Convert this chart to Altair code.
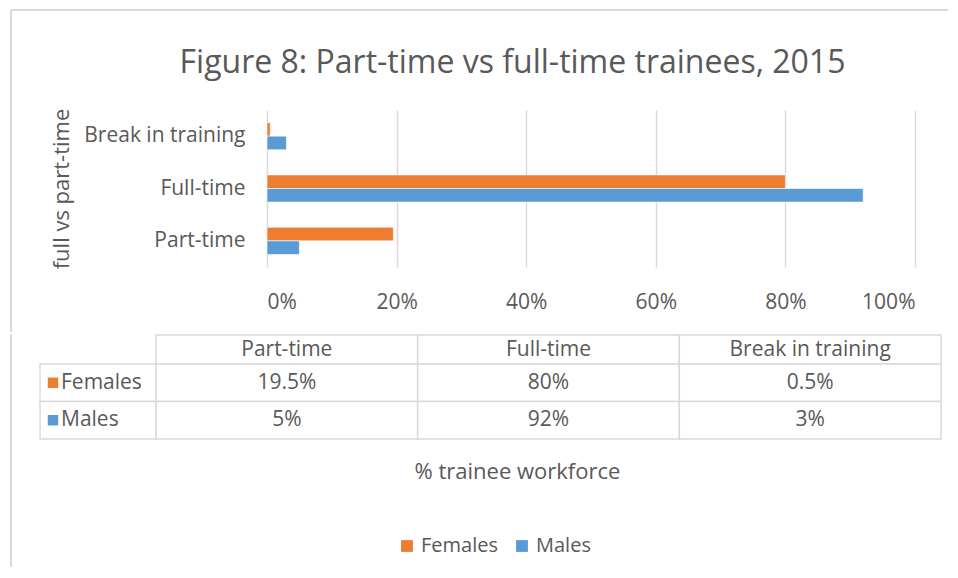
import altair as alt
import pandas as pd

# ---- data ----
categories = ["Part-time", "Full-time", "Break in training"]
genders = ["Females", "Males"]
females = [19.5, 80, 0.5]
males = [5, 92, 3]
colors = ["#ED7D31", "#5B9BD5"]
x_ticks = [0, 20, 40, 60, 80, 100]

rows = []
for g, vals in zip(genders, [females, males]):
    for c, v in zip(categories, vals):
        rows.append({"category": c, "gender": g, "value": v, "text": f"{v:g}%"})
df = pd.DataFrame(rows)
hdr = pd.DataFrame({"category": categories})
labels_df = pd.DataFrame({"gender": genders})

FONT = "Open Sans"
TXT = "#595959"
GRID = "#d9d9d9"
FS = 21
W = 785          # table width (three data columns)
LBL = 116        # width of the row-label column of the table
X0, X1 = 111, 759  # pixel span of 0%..100% inside the plot

color = alt.Color(
    "gender:N",
    scale=alt.Scale(domain=genders, range=colors),
    legend=alt.Legend(title=None, orient="none", legendX=241, legendY=426,
                      direction="horizontal",
                      symbolType="square", symbolSize=140, symbolStrokeWidth=0,
                      labelFontSize=20, labelFont=FONT, labelColor=TXT,
                      columnPadding=14, labelOffset=4),
)

bars = alt.Chart(df).mark_bar(stroke="white", strokeWidth=0.6).encode(
    x=alt.X("value:Q", scale=alt.Scale(domain=[0, 100], range=[X0, X1]),
            axis=alt.Axis(values=x_ticks, labelExpr="datum.value + '%'", grid=True,
                          gridColor=GRID, gridWidth=1.5, domain=False, ticks=False,
                          labelPadding=24, labelFontSize=FS, labelFont=FONT,
                          labelColor=TXT, title=None)),
    y=alt.Y("category:N", sort=categories[::-1],
            scale=alt.Scale(paddingInner=0.48, paddingOuter=0.24),
            axis=alt.Axis(title="full vs part-time", titleFontSize=22, titleFont=FONT,
                          titleColor=TXT, titleFontWeight="normal", titlePadding=10,
                          labelFontSize=FS, labelFont=FONT, labelColor=TXT,
                          labelPadding=22, ticks=False, domain=False, offset=-X0)),
    yOffset=alt.YOffset("gender:N", sort=genders),
    color=color,
)

# light chart-area border (left and top edges)
frame_top = alt.Chart(hdr).mark_rule(color=GRID, strokeWidth=2).encode(
    x=alt.value(-145), x2=alt.value(792), y=alt.value(-100))
frame_left_a = alt.Chart(hdr).mark_rule(color=GRID, strokeWidth=2).encode(
    x=alt.value(-145), y=alt.value(-100), y2=alt.value(222))

top = alt.layer(bars, frame_top, frame_left_a).properties(width=W, height=157)

ycells = alt.Y("gender:N", sort=genders,
               scale=alt.Scale(domain=genders, paddingInner=0, paddingOuter=0),
               axis=None)
xscale = alt.Scale(domain=categories, paddingInner=0, paddingOuter=0)
xcells = alt.X("category:N", sort=categories, scale=xscale,
               axis=alt.Axis(labels=False, ticks=False, domain=False,
                             title="% trainee workforce", titleFontSize=22,
                             titleFont=FONT, titleColor=TXT, titleFontWeight="normal",
                             titleX=361, titleY=32, titleBaseline="middle"))

cell_style = dict(fill="white", stroke=GRID, strokeWidth=1.5)
hdr_cells = alt.Chart(hdr).mark_rect(**cell_style).encode(
    x=xcells, y=alt.value(-29), y2=alt.value(0))
hdr_text = alt.Chart(hdr).mark_text(fontSize=FS, font=FONT, color=TXT).encode(
    x=xcells, y=alt.value(-14), text="category:N")
data_cells = alt.Chart(df).mark_rect(**cell_style).encode(x=xcells, y=ycells)
left_cells = alt.Chart(labels_df).mark_rect(**cell_style).encode(
    x=alt.value(-LBL), x2=alt.value(0), y=ycells)
squares = alt.Chart(labels_df).mark_square(size=110, opacity=1).encode(
    x=alt.value(-LBL + 13), y=ycells, color=color)
row_labels = alt.Chart(labels_df).mark_text(align="left", fontSize=FS, font=FONT,
                                            color=TXT).encode(
    x=alt.value(-LBL + 21), y=ycells, text="gender:N")
cell_text = alt.Chart(df).mark_text(fontSize=FS, font=FONT, color=TXT).encode(
    x=xcells, y=ycells, text="text:N")
frame_left_b = alt.Chart(hdr).mark_rule(color=GRID, strokeWidth=2).encode(
    x=alt.value(-145), y=alt.value(-30), y2=alt.value(203))

table = alt.layer(hdr_cells, hdr_text, data_cells, left_cells, squares, row_labels,
                  cell_text, frame_left_b).properties(width=W, height=75)

chart = alt.vconcat(top, table, spacing=0).properties(
    title=alt.Title("Figure 8: Part-time vs full-time trainees, 2015", fontSize=32,
                    font=FONT, color=TXT, fontWeight="normal", anchor="middle",
                    offset=30, dx=33, dy=101),
    padding={"left": 2, "top": 1, "right": 0, "bottom": 0},
).configure_view(stroke=None)

chart.save("out.html", embed_options={"renderer": "svg", "actions": False})
